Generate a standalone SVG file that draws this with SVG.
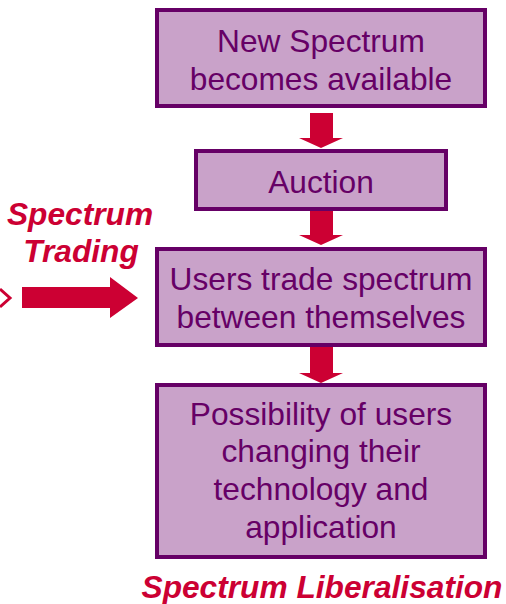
<svg xmlns="http://www.w3.org/2000/svg" width="506" height="604" viewBox="0 0 506 604">
<style>
.box{fill:#C9A2C9;stroke:#660066;stroke-width:4}
.t{font-family:"Liberation Sans",Arial,sans-serif;font-size:31.7px;fill:#660066;text-anchor:middle}
.r{font-family:"Liberation Sans",Arial,sans-serif;font-size:31.7px;font-weight:bold;font-style:italic;fill:#CC0033;text-anchor:middle}
.arr{fill:#CC0033}
</style>
<rect width="506" height="604" fill="#FFFFFF"/>
<g id="n1">
<rect class="box" x="157" y="10" width="328" height="96"/>
<text class="t" x="321" y="52">New Spectrum</text>
<text class="t" x="321" y="90">becomes available</text>
</g>
<g id="n2">
<rect class="box" x="196" y="151" width="250" height="58"/>
<text class="t" x="321" y="193">Auction</text>
</g>
<g id="n3">
<rect class="box" x="157" y="249" width="328" height="96"/>
<text class="t" x="321" y="290">Users trade spectrum</text>
<text class="t" x="321" y="328">between themselves</text>
</g>
<g id="n4">
<rect class="box" x="157" y="385" width="328" height="172"/>
<text class="t" x="321" y="425">Possibility of users</text>
<text class="t" x="321" y="462">changing their</text>
<text class="t" x="321" y="500">technology and</text>
<text class="t" x="321" y="538">application</text>
</g>
<g id="labels">
<text class="r" x="80" y="225">Spectrum</text>
<text class="r" x="81" y="262">Trading</text>
<text class="r" x="322" y="598">Spectrum Liberalisation</text>
</g>
<g id="connectors">
<polygon class="arr" points="310,113 333,113 333,138 343,138 321,148 299,138 310,138"/>
<polygon class="arr" points="310,211 333,211 333,235 343,235 321,245 299,235 310,235"/>
<polygon class="arr" points="310,347 333,347 333,373 343,373 321,383 299,373 310,373"/>
<polygon class="arr" points="22,287 110,287 110,277 138,298 110,318 110,308 22,308"/>
<polyline points="0,289 10,298 0,307" fill="none" stroke="#CC0033" stroke-width="3"/>
</g>
</svg>
